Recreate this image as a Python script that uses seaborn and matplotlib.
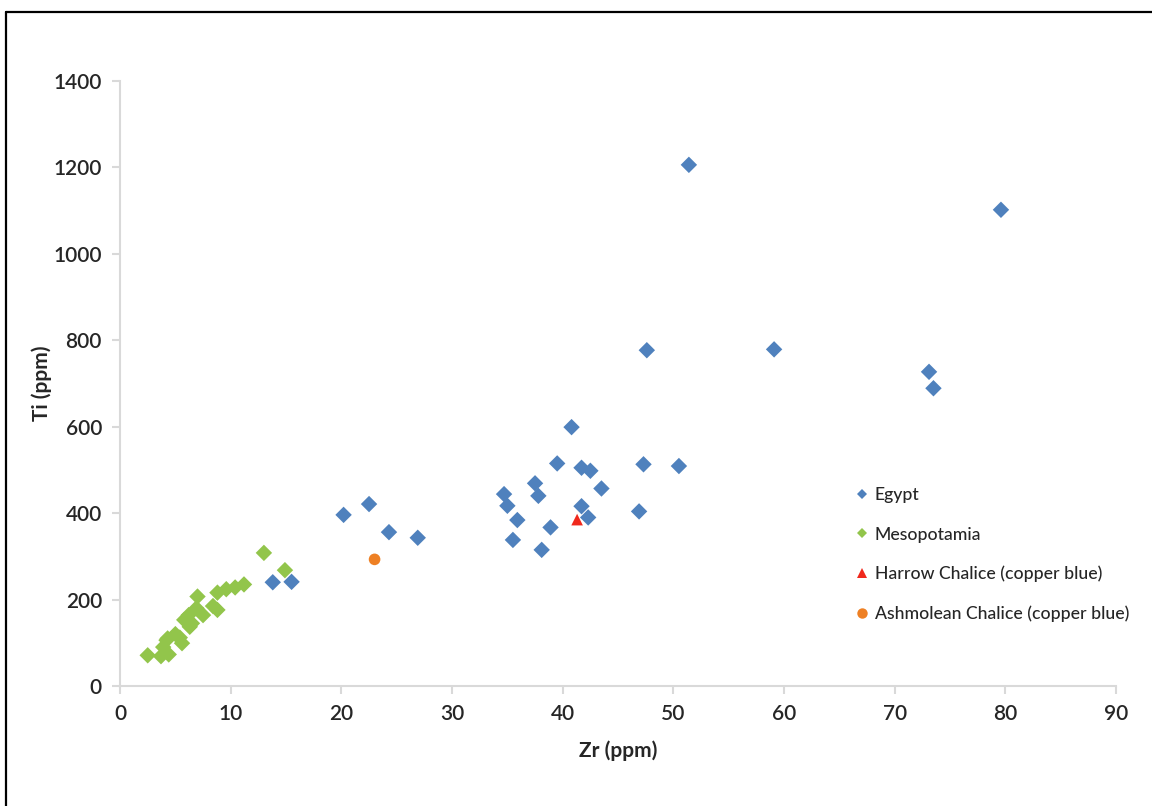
import numpy as np
import pandas as pd
import matplotlib
matplotlib.use("Agg")
import matplotlib.pyplot as plt
from matplotlib.lines import Line2D
import seaborn as sns

# Zr / Ti concentrations (ppm) for each group of samples
egypt_zr = [51.4, 79.6, 47.6, 59.1, 73.1, 73.5, 40.8, 39.5, 41.7, 42.5, 47.3, 50.5,
            37.5, 34.7, 37.8, 43.5, 35.0, 41.7, 35.9, 42.3, 38.9, 46.9, 35.5, 38.1,
            20.2, 22.5, 24.3, 26.9, 13.8, 15.5]
egypt_ti = [1206, 1102, 777, 779, 727, 689, 599, 515, 505, 498, 513, 509,
            469, 444, 440, 457, 417, 416, 384, 390, 367, 404, 338, 315,
            396, 421, 356, 343, 240, 241]

meso_zr = [2.5, 3.7, 4.4, 3.9, 4.3, 5.0, 5.6, 4.2, 5.8, 6.2, 6.3, 6.9, 7.5, 7.0,
           8.4, 8.8, 8.8, 9.6, 10.4, 11.2, 13.0, 14.9, 5.4, 6.5]
meso_ti = [71, 69, 73, 90, 110, 120, 99, 106, 153, 164, 137, 180, 164, 207,
           185, 176, 216, 224, 228, 235, 308, 268, 112, 145]

harrow_zr = [41.3]
harrow_ti = [385]

ashmolean_zr = [23.0]
ashmolean_ti = [293]

groups = ["Egypt", "Mesopotamia", "Harrow Chalice (copper blue)",
          "Ashmolean Chalice (copper blue)"]
colors = ["#4F81BD", "#92C54B", "#F0281C", "#EE8024"]
markers = ["D", "D", "^", "o"]

x_ticks = [0, 10, 20, 30, 40, 50, 60, 70, 80, 90]
y_ticks = [0, 200, 400, 600, 800, 1000, 1200, 1400]

df = pd.concat([
    pd.DataFrame({"Zr": egypt_zr, "Ti": egypt_ti, "group": groups[0]}),
    pd.DataFrame({"Zr": meso_zr, "Ti": meso_ti, "group": groups[1]}),
    pd.DataFrame({"Zr": harrow_zr, "Ti": harrow_ti, "group": groups[2]}),
    pd.DataFrame({"Zr": ashmolean_zr, "Ti": ashmolean_ti, "group": groups[3]}),
], ignore_index=True)

sns.set_style("white")
plt.rcParams["font.family"] = ["Lato", "DejaVu Sans"]

fig = plt.figure(figsize=(11.52, 8.06), dpi=100)
ax = fig.add_axes([0.1042, 0.1489, 0.8646, 0.7506])

sns.scatterplot(data=df, x="Zr", y="Ti", hue="group", style="group",
                hue_order=groups, style_order=groups,
                palette=dict(zip(groups, colors)),
                markers=dict(zip(groups, markers)),
                s=70, linewidth=0, ax=ax, legend=False)

ax.set_xlim(0, 90)
ax.set_ylim(0, 1400)
ax.set_xticks(x_ticks)
ax.set_yticks(y_ticks)

axis_grey = "#D9D9D9"
for side in ["top", "right"]:
    ax.spines[side].set_visible(False)
for side in ["left", "bottom"]:
    ax.spines[side].set_color(axis_grey)
    ax.spines[side].set_linewidth(1.5)
ax.tick_params(axis="both", which="major", direction="out", length=6,
               width=1.5, color=axis_grey, labelsize=15, labelcolor="#262626",
               pad=7, left=True, bottom=True)
for lbl in ax.get_xticklabels() + ax.get_yticklabels():
    lbl.set_fontweight("semibold")

ax.set_xlabel("Zr (ppm)", fontsize=15, fontweight="bold", color="#262626",
              labelpad=12)
ax.set_ylabel("Ti (ppm)", fontsize=15, fontweight="bold", color="#262626",
              labelpad=1)

handles = [Line2D([], [], linestyle="none", marker=m, color=c,
                  markersize=(5.5 if m == "D" else 7.5), markeredgewidth=0)
           for m, c in zip(markers, colors)]
leg = ax.legend(handles, groups, loc="upper left", bbox_to_anchor=(0.733, 0.34),
                frameon=False, fontsize=12.7, labelspacing=1.32,
                handlelength=0.6, handletextpad=0.4, borderaxespad=0)
for t in leg.get_texts():
    t.set_color("#262626")
    t.set_fontweight("medium")

# thin black frame along the top and left of the figure
fig.add_artist(Line2D([6 / 1152, 6 / 1152], [0, 1 - 12 / 806],
                      transform=fig.transFigure, color="black", linewidth=1.6))
fig.add_artist(Line2D([6 / 1152, 1], [1 - 12 / 806, 1 - 12 / 806],
                      transform=fig.transFigure, color="black", linewidth=1.6))

fig.savefig("out.png", dpi=100, facecolor="white")
